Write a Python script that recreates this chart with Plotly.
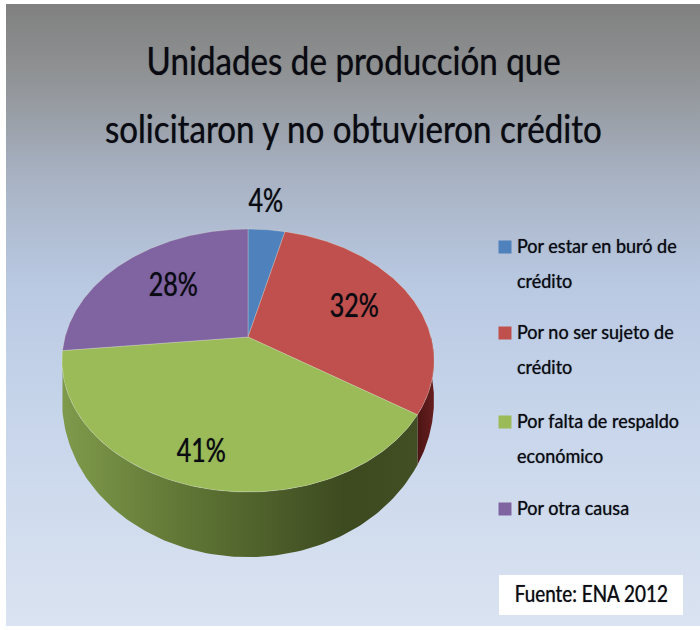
import numpy as np
import plotly.graph_objects as go

categories = ["Por estar en buró de<br>crédito", "Por no ser sujeto de<br>crédito",
              "Por falta de respaldo<br>económico", "Por otra causa"]
values = [4, 32, 41, 28]
labels = ["4%", "32%", "41%", "28%"]
colors = ["#4f81bd", "#c0504d", "#9bbb59", "#8064a2"]
title_lines = ["Unidades de producción que", "solicitaron y no obtuvieron crédito"]
source = "Fuente: ENA 2012"

FONT = "Lato"
INK = "#0a0a12"
SHADOW = "0 0 1px rgba(0,0,10,0.65)"
CX, CY = 248.0, 337.0
K = 0.179
TOP_A, TOP_B = 183.0, 127.3
BASE_A, BASE_B, BASE_D = 183.0, 152.0, 35.0
VIS = (90.0, 264.0)


def project(theta, a, b, d):
    t = np.radians(theta)
    u, v = np.sin(t), np.cos(t)
    w = 1 + K * v
    return CX + a * u / w, CY + d - b * v / w


def face(size):
    return dict(size=size, family=FONT, color=INK, shadow=SHADOW)


total = sum(values)
edges = np.concatenate([[0], np.cumsum(values)]) / total * 360

fig = go.Figure()

# backdrop
fig.add_trace(go.Scatter(
    x=[6, 700, 700, 6, 6], y=[4, 4, 626, 626, 4], mode="lines", line=dict(width=0),
    fill="toself", hoverinfo="skip",
    fillgradient=dict(type="vertical", colorscale=[
        [0.0, "#dae3f1"], [0.36, "#c6d4ea"], [0.55, "#b9c9e2"],
        [0.72, "#a8b2c3"], [0.9, "#8e9091"], [1.0, "#808080"]]),
))

# rim
rim_scales = {
    1: [[0, "#4d1414"], [1, "#661e1e"]],
    2: [[0, "#7f9a4b"], [0.35, "#5f7535"], [0.8, "#3d4a20"], [1, "#424f24"]],
}
for i, scale in rim_scales.items():
    lo, hi = max(edges[i], VIS[0]), min(edges[i + 1], VIS[1])
    if hi <= lo:
        continue
    th = np.linspace(lo, hi, 120)
    xt, yt = project(th, TOP_A, TOP_B, 0)
    xb, yb = project(th[::-1], BASE_A, BASE_B, BASE_D)
    fig.add_trace(go.Scatter(
        x=np.r_[xt, xb, xt[0]], y=np.r_[yt, yb, yt[0]], mode="lines", line=dict(width=0),
        fill="toself", hoverinfo="skip",
        fillgradient=dict(type="horizontal", colorscale=scale),
    ))

# top face
for i, c in enumerate(colors):
    th = np.linspace(edges[i], edges[i + 1], 160)
    xt, yt = project(th, TOP_A, TOP_B, 0)
    fig.add_trace(go.Scatter(
        x=np.r_[CX, xt, CX], y=np.r_[CY, yt, CY], mode="lines",
        line=dict(width=0.6, color="rgba(235,235,215,0.45)"),
        fill="toself", fillcolor=c, hoverinfo="skip",
    ))

# legend swatches
legend_x = 505
legend_y = [247, 333, 422, 509]
fig.add_trace(go.Scatter(
    x=[legend_x] * 4, y=legend_y, mode="markers", hoverinfo="skip",
    marker=dict(symbol="square", size=13, color=colors, line=dict(width=0)),
))

shapes = [dict(type="rect", x0=499, x1=683, y0=575, y1=615, line_width=0,
               fillcolor="white", layer="above")]

ann = []
for line, y in zip(title_lines, [60, 128]):
    ann.append(dict(x=353, y=y, text=line, font=face(39)))
for lab, (x, y) in zip(labels, [(266, 199), (354, 304), (201, 449), (173, 283)]):
    ann.append(dict(x=x, y=y, text=lab, font=face(33)))
for cat, y in zip(categories, legend_y):
    for j, part in enumerate(cat.split("<br>")):
        ann.append(dict(x=515, y=y - 2 + j * 35, text=part, xanchor="left", align="left",
                        font=face(20)))
ann.append(dict(x=591, y=593, text=source, font=face(23)))

for a in ann:
    a.setdefault("xanchor", "center")
    a.update(xref="x", yref="y", yanchor="middle", showarrow=False)

fig.update_layout(
    width=700, height=630, margin=dict(l=0, r=0, t=0, b=0),
    paper_bgcolor="white", plot_bgcolor="white", showlegend=False,
    xaxis=dict(range=[0, 700], visible=False, fixedrange=True),
    yaxis=dict(range=[630, 0], visible=False, fixedrange=True),
    annotations=ann, shapes=shapes, hovermode=False,
)

# The reference lettering is horizontally condensed; the factor depends on the size.
condense = """
document.body.style.margin = '0';
var FACTORS = {39: 0.85, 33: 0.76, 23: 0.82, 20: 0.9};
function condenseText() {
  document.querySelectorAll('.annotation-text').forEach(function (t) {
    if (t.hasAttribute('textLength')) return;
    var w = t.getComputedTextLength();
    if (!w) return;
    var f = FACTORS[Math.round(parseFloat(getComputedStyle(t).fontSize))] || 0.85;
    t.setAttribute('textLength', (w * f).toFixed(1));
    t.setAttribute('lengthAdjust', 'spacingAndGlyphs');
  });
}
condenseText();
setTimeout(condenseText, 30);
setTimeout(condenseText, 200);
"""
fig.write_html("out.html", post_script=condense, config=dict(displayModeBar=False))
